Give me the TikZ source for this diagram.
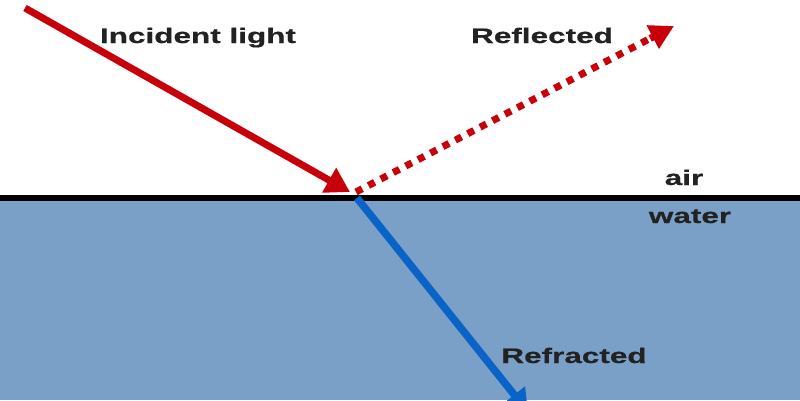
\documentclass[tikz,border=0pt]{standalone}
\usepackage{fontspec}
\setmainfont{Liberation Sans}
\newfontfamily\widefont[FakeStretch=1.5,FakeBold=0.6]{Liberation Sans}
\usetikzlibrary{arrows.meta,calc}
\definecolor{waterblue}{HTML}{7BA0C7}
\definecolor{rayred}{HTML}{C8000A}
\definecolor{rayblue}{HTML}{0A64C8}
\definecolor{txt}{HTML}{222222}
\tikzset{
  lbl/.style={font=\widefont\bfseries\fontsize{21}{21}\selectfont, text=txt, inner sep=0pt, anchor=base},
  ray/.style={line width=7pt},
}
\begin{document}
\begin{tikzpicture}[x=1pt,y=-1pt]
\useasboundingbox (0,0) rectangle (800,400);
\clip (0,0) rectangle (800,400);
\fill[white] (0,0) rectangle (800,400);
\fill[waterblue] (0,198) rectangle (800,400);
\coordinate (L) at (0,198);
\coordinate (R) at (800,198);
\draw[line width=6pt, black] (L) -- (R);
\coordinate (inS) at (25,8);
\coordinate (hit) at (350,192);
\coordinate (rfS) at (356,192);
\coordinate (rfE) at (674,26);
\coordinate (rrS) at (357,198);
\coordinate (rrE) at (528,412);
\draw[ray, rayred, -{Triangle[length=24pt,width=27pt]}] (inS) -- (hit);
\draw[ray, rayred, dash pattern=on 7pt off 7pt] (rfS) -- ($(rfS)!0.93!(rfE)$);
\draw[ray, rayred, -{Triangle[length=24pt,width=25pt]}] ($(rfS)!0.925!(rfE)$) -- (rfE);
\draw[ray, line width=7.5pt, rayblue, -{Triangle[length=22pt,width=26pt]}] (rrS) -- (rrE);
\node[lbl] (inc) at (198,43) {Incident light};
\node[lbl] (refl) at (542,43) {Reflected};
\node[lbl] (air) at (684,185) {air};
\node[lbl] (water) at (690,223) {water};
\node[lbl] (refr) at (574,363) {Refracted};
\end{tikzpicture}
\end{document}
